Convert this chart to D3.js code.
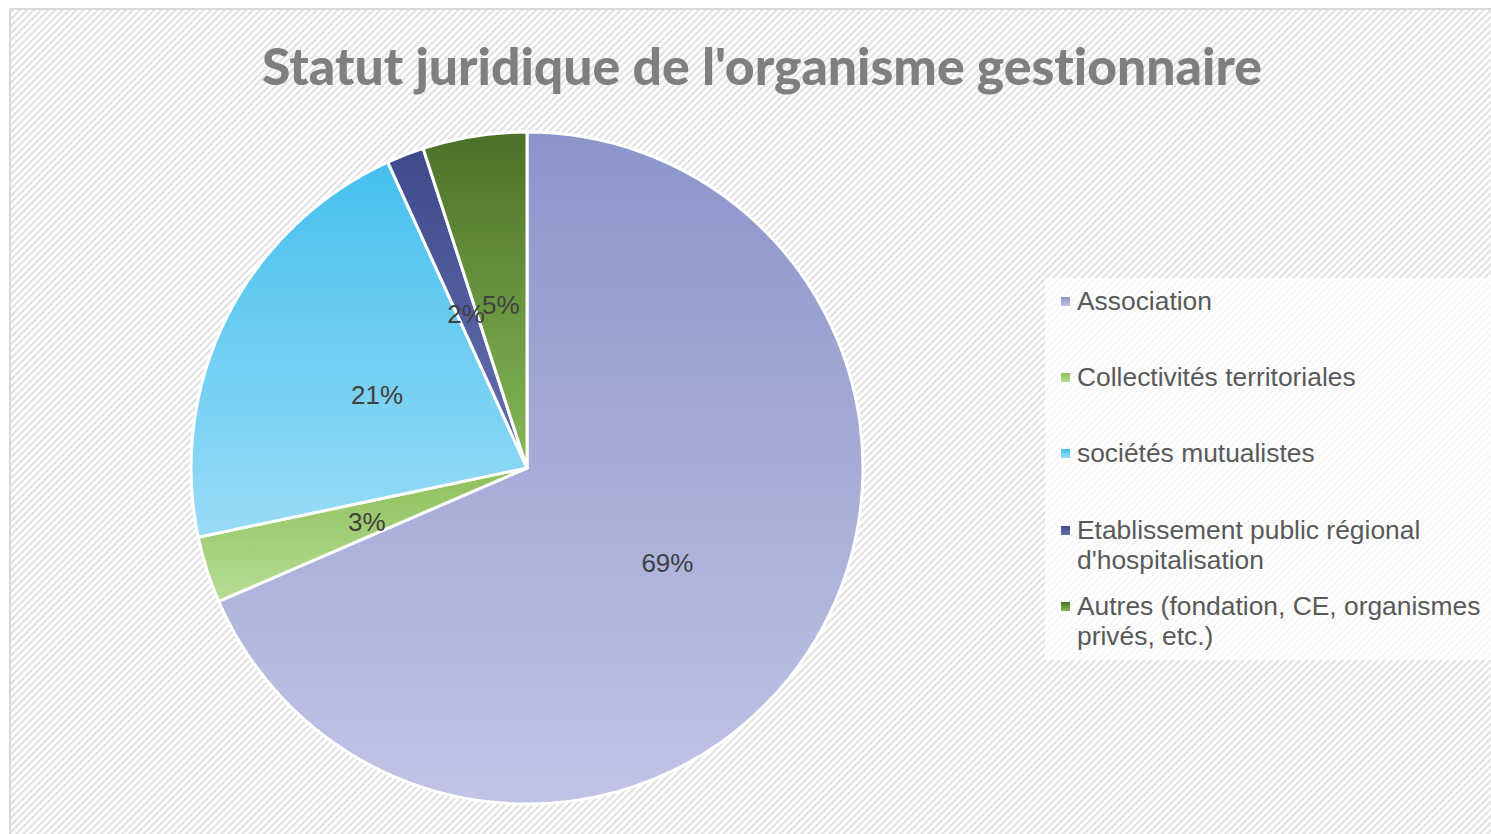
<!DOCTYPE html>
<html><head><meta charset="utf-8">
<script src="https://cdn.jsdelivr.net/npm/d3@7"></script>
<style>html,body{margin:0;padding:0;background:#fff;overflow:hidden}
.ttl{font-variant-ligatures:none;font-feature-settings:"liga" 0,"clig" 0,"dlig" 0}</style>
</head><body>
<script>
const title = "Statut juridique de l'organisme gestionnaire";
const categories = ["Association","Collectivités territoriales","sociétés mutualistes","Etablissement public régional d'hospitalisation","Autres (fondation, CE, organismes privés, etc.)"];
const legendLines = [["Association"],["Collectivités territoriales"],["sociétés mutualistes"],["Etablissement public régional","d'hospitalisation"],["Autres (fondation, CE, organismes","privés, etc.)"]];
const values = [68.5, 3.2, 21.5, 1.8, 5.0];
const labels = ["69%","3%","21%","2%","5%"];
const colorsTop = ["#8b95c9","#8dbf58","#46c0ee","#3e4a8c","#4c7028"];
const colorsBottom = ["#c1c4e6","#b7dd97","#98dcf6","#6670b2","#86b857"];

const W = 1491, H = 834;
const svg = d3.select("body").append("svg").attr("width", W).attr("height", H);
const defs = svg.append("defs");
const pat = defs.append("pattern").attr("id","hatch").attr("patternUnits","userSpaceOnUse")
  .attr("width",5).attr("height",5).attr("patternTransform","rotate(45)");
pat.append("rect").attr("width",5).attr("height",5).attr("fill","#ffffff");
pat.append("rect").attr("width",2.3).attr("height",5).attr("fill","#e2e2e2");

svg.append("rect").attr("x",0).attr("y",0).attr("width",W).attr("height",H).attr("fill","#fff");
svg.append("rect").attr("x",10).attr("y",9).attr("width",W+10).attr("height",H+10)
  .attr("fill","url(#hatch)").attr("stroke","#d9d9d9").attr("stroke-width",2);

// title
const t = svg.append("text").attr("class","ttl").attr("x",762).attr("y",85).attr("text-anchor","middle")
  .attr("font-family","Lato, 'Open Sans', sans-serif").attr("font-weight",900)
  .attr("font-size",48).attr("fill","#7f7f7f").text(title);
const tl = t.node().getComputedTextLength();
t.attr("font-size", 48*1000/tl);

// gradients
colorsTop.forEach((c,i)=>{
  const g = defs.append("linearGradient").attr("id","g"+i).attr("x1",0).attr("y1",0).attr("x2",0).attr("y2",1);
  g.append("stop").attr("offset","0%").attr("stop-color",c);
  g.append("stop").attr("offset","100%").attr("stop-color",colorsBottom[i]);
});

const cx = 527, cy = 468, R = 336;
const pie = d3.pie().sort(null).value(d=>d)(values);
const arc = d3.arc().innerRadius(0).outerRadius(R);
const gp = svg.append("g").attr("transform",`translate(${cx},${cy})`);
gp.selectAll("path").data(pie).join("path").attr("d",arc)
  .attr("fill",(d,i)=>`url(#g${i})`).attr("stroke","#fff").attr("stroke-width",3).attr("stroke-linejoin","round");
gp.selectAll("text.lbl").data(pie).join("text").attr("class","lbl")
  .attr("transform",d=>`translate(${arc.centroid(d)})`)
  .attr("text-anchor","middle").attr("dy","0.45em")
  .attr("font-family","'Liberation Sans', Arial, sans-serif").attr("font-size",26).attr("fill","#404040")
  .text((d,i)=>labels[i]);

// legend
svg.append("rect").attr("x",1045).attr("y",278).attr("width",W-1045).attr("height",382)
  .attr("fill","#ffffff").attr("fill-opacity",0.72);
const baselines = [310, 386, 462, 539, 615];
const lg = svg.append("g");
legendLines.forEach((lines,i)=>{
  const gi = lg.append("g").attr("transform",`translate(0,${baselines[i]})`);
  gi.append("rect").attr("x",1061).attr("y",-13).attr("width",9).attr("height",9).attr("fill",`url(#g${i})`);
  const tx = gi.append("text").attr("font-family","'Liberation Sans', Arial, sans-serif")
    .attr("font-size",26.4).attr("fill","#595959");
  lines.forEach((ln,j)=>tx.append("tspan").attr("x",1077).attr("y",j*30).text(ln));
});
</script>
</body></html>
